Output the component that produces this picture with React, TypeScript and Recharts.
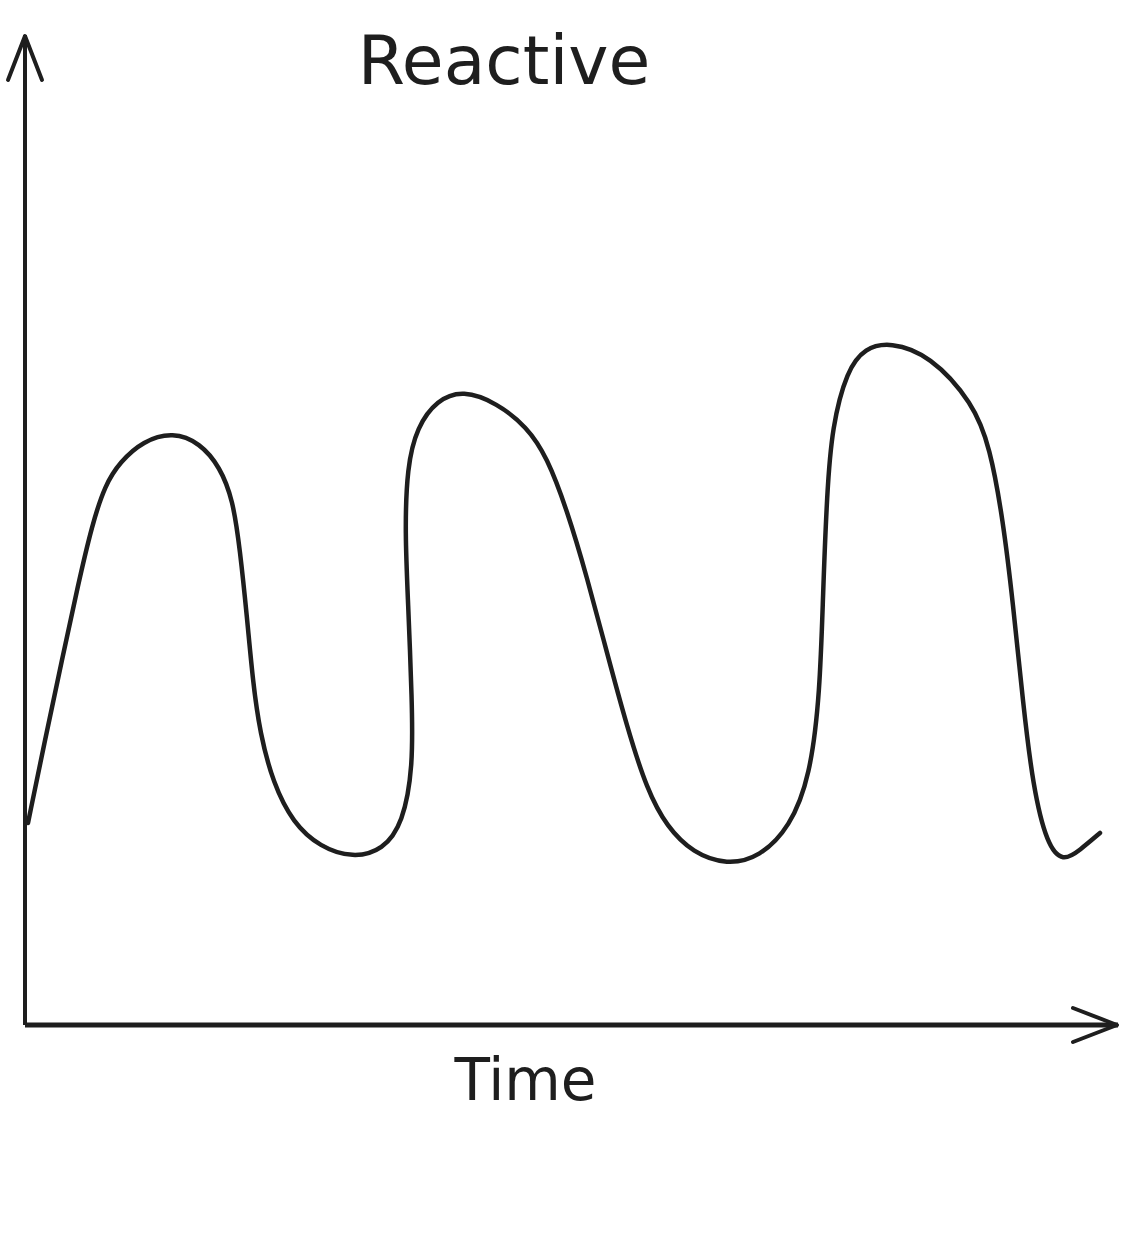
import { LineChart, Line, XAxis, YAxis } from 'recharts'

// hand-traced sketch of a "reactive" response over time
const times = [
  0.3, 2.0, 3.7, 5.3, 6.7, 8.0, 9.5, 11.8, 14.8, 17.5, 19.5, 20.8, 21.5, 22.2, 22.8, 23.5, 24.8, 26.8,
  29.5, 32.8, 35.8, 37.8, 38.8, 38.7, 38.3, 38.0, 38.2, 39.2, 41.2, 43.8, 47.2, 50.2, 52.2, 54.2, 56.2,
  58.2, 60.2, 62.2, 64.2, 66.8, 70.2, 73.5, 76.5, 78.5, 79.5, 79.8, 80.2, 80.7, 82.2, 84.0, 86.5, 90.5,
  94.8, 96.5, 97.8, 98.8, 99.8, 100.8, 102.2, 103.8, 105.5, 107.5,
]
const levels = [
  20.2, 28.5, 36.5, 44.0, 50.0, 54.0, 56.3, 58.4, 59.3, 58.2, 55.8, 52.5, 47.5, 40.8, 34.2, 29.2, 24.2, 20.2,
  17.8, 16.7, 17.5, 20.2, 25.8, 32.5, 42.5, 49.2, 55.8, 59.8, 62.5, 63.5, 62.2, 59.8, 56.8, 51.5, 44.8,
  37.2, 29.8, 23.5, 19.8, 17.2, 16.0, 16.8, 19.8, 24.8, 33.2, 43.2, 53.2, 59.8, 65.5, 67.7, 68.3, 67.0,
  62.2, 57.8, 50.5, 42.2, 32.2, 23.8, 18.0, 16.3, 17.5, 19.2,
]
const title = 'Reactive'
const xLabel = 'Time'

const data = times.map((t, i) => ({ t, v: levels[i] }))

const ink = '#1e1e1e'
const font = '"DejaVu Sans", sans-serif'

export default function App() {
  return (
    <div style={{ position: 'absolute', left: 0, top: 0, width: 1138, height: 1234, background: '#fff' }}>
      <div
        style={{
          position: 'absolute', left: 0, top: 27, width: 1008, textAlign: 'center',
          fontFamily: font, fontSize: 68, lineHeight: 1, color: ink,
        }}
      >
        {title}
      </div>
      <LineChart width={1138} height={1234} data={data} margin={{ top: 35, right: 20, left: 5, bottom: 189 }}>
        <defs>
          <marker id="arrowHead" viewBox="0 0 50 40" refX={48} refY={20} markerWidth={50} markerHeight={40}
            markerUnits="userSpaceOnUse" orient="auto-start-reverse">
            <path d="M3,3 L47,20 L3,37" fill="none" stroke={ink} strokeWidth={4} strokeLinecap="round" strokeLinejoin="round" />
          </marker>
        </defs>
        <XAxis
          dataKey="t" type="number" domain={[0, 109.3]} height={20}
          tick={false} tickLine={false}
          axisLine={{ stroke: ink, strokeWidth: 5, markerEnd: 'url(#arrowHead)' }}
          label={{ value: xLabel, position: 'insideBottom', offset: -55, dx: -46, fontSize: 58, fill: ink, fontFamily: font }}
        />
        <YAxis
          type="number" domain={[0, 99]} width={20}
          tick={false} tickLine={false}
          axisLine={{ stroke: ink, strokeWidth: 4, markerStart: 'url(#arrowHead)' }}
        />
        <Line
          dataKey="v" type="basis" stroke={ink} strokeWidth={4.5} dot={false}
          strokeLinecap="round" isAnimationActive={false}
        />
      </LineChart>
    </div>
  )
}
